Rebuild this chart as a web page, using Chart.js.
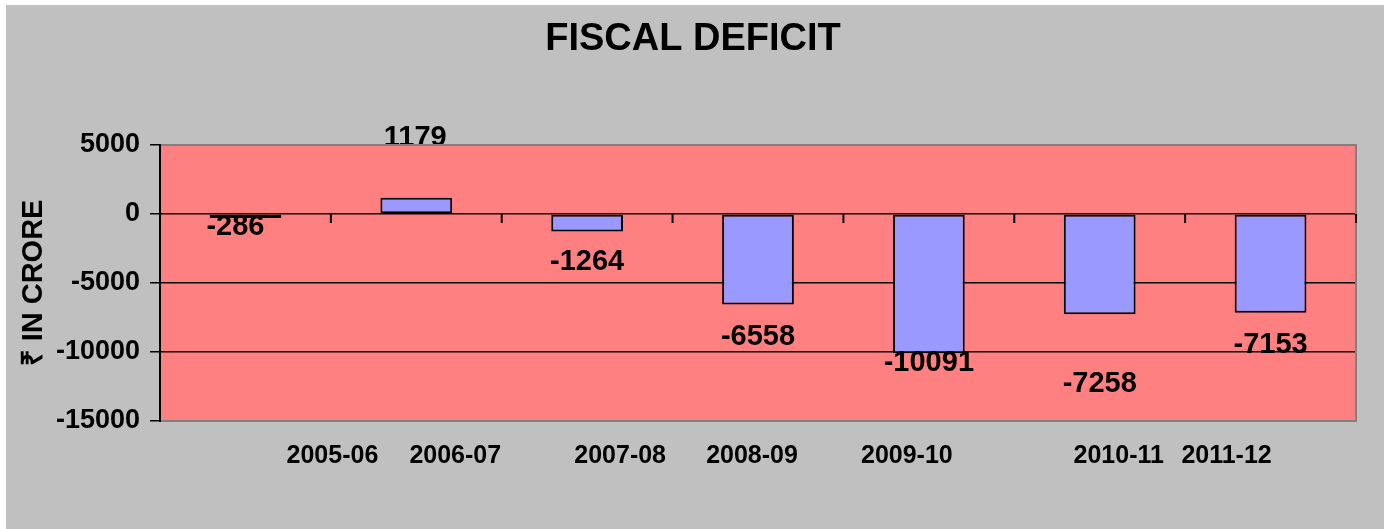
<!DOCTYPE html>
<html>
<head>
<meta charset="utf-8">
<script src="https://cdn.jsdelivr.net/npm/chart.js@4.4.0/dist/chart.umd.min.js"></script>
<style>
    html, body { margin: 0; padding: 0; background: #ffffff; }
    #wrap { width: 1384px; height: 529px; }
</style>
</head>
<body>
<div id="wrap"><canvas id="deficitChart" width="1384" height="529"></canvas></div>
<script>
// Chart data
const chartTitle = 'FISCAL DEFICIT';
const years = ['2005-06', '2006-07', '2007-08', '2008-09', '2009-10', '2010-11', '2011-12'];
const deficit = [-286, 1179, -1264, -6558, -10091, -7258, -7153];
const yTicks = [5000, 0, -5000, -10000, -15000];

// Hand-placed labels in the original sheet (pixel nudges from default spot)
const labelShiftX = [-10, -1, 0, 0, 0, 0, 0];
const labelShiftY = [9, -60, 31, 32, 10, 70, 32];
const yearShiftX = [87, 39, 33, -6, -22, 19, -44];

const FONT = "'Liberation Sans', Arial, Helvetica, sans-serif";

// Plot backgrounds, borders, zero-line ticks, title and category labels
const backdropPlugin = {
    id: 'backdrop',
    beforeDraw(chart) {
        const { ctx, chartArea: a } = chart;
        ctx.save();
        ctx.fillStyle = '#ffffff';
        ctx.fillRect(0, 0, chart.width, chart.height);
        ctx.fillStyle = '#c0c0c0';
        ctx.fillRect(6, 5, chart.width - 6, chart.height - 5);
        ctx.fillStyle = '#ff8080';
        ctx.fillRect(a.left, a.top, a.right - a.left, a.bottom - a.top);
        ctx.restore();
    },
    afterDraw(chart) {
        const { ctx, chartArea: a, scales } = chart;
        ctx.save();
        // plot border
        ctx.strokeStyle = '#808080';
        ctx.lineWidth = 2;
        ctx.strokeRect(a.left, a.top, a.right - a.left, a.bottom - a.top);
        // value axis line
        ctx.strokeStyle = '#000000';
        ctx.beginPath();
        ctx.moveTo(a.left, a.top - 1);
        ctx.lineTo(a.left, a.bottom + 1);
        ctx.stroke();
        // category tick marks on the zero line
        const y0 = scales.y.getPixelForValue(0);
        ctx.lineWidth = 2;
        for (let i = 1; i <= years.length; i++) {
            const x = scales.x.getPixelForValue(i - 0.5);
            ctx.beginPath();
            ctx.moveTo(x, y0);
            ctx.lineTo(x, y0 + 9);
            ctx.stroke();
        }
        ctx.fillStyle = '#000000';
        ctx.textAlign = 'center';
        ctx.textBaseline = 'middle';
        // title
        ctx.font = 'bold 38px ' + FONT;
        ctx.fillText(chartTitle, 693, 40);
        // category labels
        ctx.font = 'bold 25px ' + FONT;
        years.forEach((yr, i) => {
            ctx.fillText(yr, scales.x.getPixelForValue(i) + yearShiftX[i], 456);
        });
        ctx.restore();
    }
};

// Value labels on bars
const valueLabelPlugin = {
    id: 'valueLabels',
    afterDatasetsDraw(chart) {
        const { ctx } = chart;
        const meta = chart.getDatasetMeta(0);
        ctx.save();
        ctx.fillStyle = '#000000';
        ctx.font = 'bold 29px ' + FONT;
        ctx.textAlign = 'center';
        ctx.textBaseline = 'middle';
        meta.data.forEach((bar, i) => {
            ctx.fillText(String(deficit[i]), bar.x + labelShiftX[i], bar.y + labelShiftY[i]);
        });
        ctx.restore();
    }
};

const ctx = document.getElementById('deficitChart').getContext('2d');
const chart = new Chart(ctx, {
    type: 'bar',
    data: {
        labels: years,
        datasets: [{
            label: 'Fiscal deficit',
            data: deficit,
            backgroundColor: '#9999ff',
            borderColor: '#000000',
            borderWidth: 2,
            borderSkipped: false,
            categoryPercentage: 1,
            barPercentage: 0.42
        }]
    },
    options: {
        responsive: false,
        animation: false,
        layout: {
            padding: { left: 0, right: 28, top: 145, bottom: 108 }
        },
        plugins: {
            legend: { display: false },
            tooltip: { enabled: false },
            title: { display: false }
        },
        scales: {
            x: {
                display: false,
                offset: true
            },
            y: {
                min: -15000,
                max: 5000,
                afterFit(scale) { scale.width = 160; },
                afterBuildTicks(scale) {
                    scale.ticks = yTicks.map(v => ({ value: v }));
                },
                border: { display: false },
                grid: {
                    color: '#000000',
                    lineWidth: 1.5,
                    tickLength: 10,
                    drawTicks: true
                },
                ticks: {
                    color: '#000000',
                    padding: 10,
                    font: { family: FONT, size: 27, weight: 'bold' },
                    callback: (v) => String(v)
                },
                title: {
                    display: true,
                    text: '₹ IN CRORE',
                    color: '#000000',
                    font: { family: FONT, size: 29, weight: 'bold' },
                    padding: { top: 17, bottom: 0 }
                }
            }
        }
    },
    plugins: [backdropPlugin, valueLabelPlugin]
});
</script>
</body>
</html>
